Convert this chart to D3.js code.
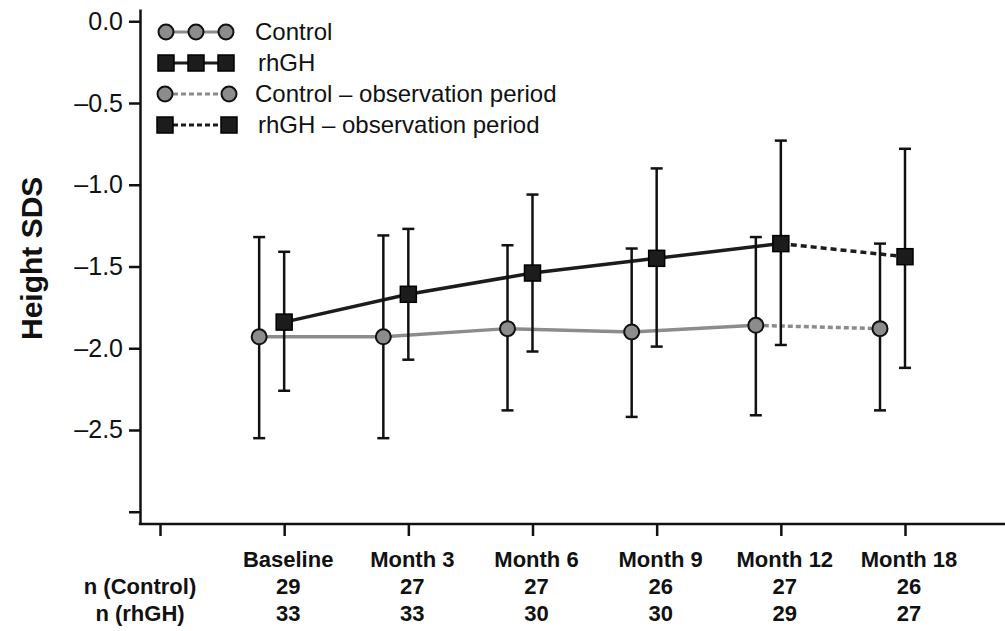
<!DOCTYPE html>
<html>
<head>
<meta charset="utf-8">
<script src="https://cdn.jsdelivr.net/npm/d3@7"></script>
<style>
body { margin: 0; background: #fff; }
svg text { font-family: "Liberation Sans", Arial, sans-serif; fill: #111; }
</style>
</head>
<body>
<div id="chart"></div>
<script>
// values
var categories = ["Baseline", "Month 3", "Month 6", "Month 9", "Month 12", "Month 18"];
var controlMean = [-1.93, -1.93, -1.88, -1.90, -1.86, -1.88];
var controlLow  = [-2.55, -2.55, -2.38, -2.42, -2.41, -2.38];
var controlHigh = [-1.32, -1.31, -1.37, -1.39, -1.32, -1.36];
var rhghMean = [-1.84, -1.67, -1.54, -1.45, -1.36, -1.44];
var rhghLow  = [-2.26, -2.07, -2.02, -1.99, -1.98, -2.12];
var rhghHigh = [-1.41, -1.27, -1.06, -0.90, -0.73, -0.78];
var nControl = [29, 27, 27, 26, 27, 26];
var nRhgh = [33, 33, 30, 30, 29, 27];
var yTicks = [0, -0.5, -1, -1.5, -2, -2.5, -3];
var legendLabels = ["Control", "rhGH", "Control \u2013 observation period", "rhGH \u2013 observation period"];

var width = 1005, height = 631;
var grey = "#8c8c8c", dark = "#1c1c1c";
var offset = -25; // control points sit left of the tick

var svg = d3.select("#chart").append("svg")
    .attr("width", width)
    .attr("height", height);

// scales
var x = d3.scalePoint()
    .domain([""].concat(categories))
    .range([160, 905]);

var y = d3.scaleLinear()
    .domain([0.075, -3.075])
    .range([9, 524]);

var fmt = d3.format(".1f");

// y axis
var yAxis = svg.append("g")
    .attr("transform", "translate(140,0)")
    .call(d3.axisLeft(y).tickValues(yTicks).tickSize(11).tickSizeOuter(0).tickPadding(6)
        .tickFormat(function (d) { return d === -3 ? "" : fmt(d).replace("\u2212", "\u2013"); }));
yAxis.selectAll("path, line").attr("stroke", "#111").attr("stroke-width", 2.5);
yAxis.selectAll("text").style("font-size", "25px").attr("fill", "#111");

// x axis
var xAxis = svg.append("g")
    .attr("transform", "translate(0," + y.range()[1] + ")")
    .call(d3.axisBottom(x).tickSize(12).tickSizeOuter(0).tickFormat(""));
xAxis.select(".domain").remove();
xAxis.selectAll("line").attr("stroke", "#111").attr("stroke-width", 2.5);
xAxis.append("line")
    .attr("x1", 138.8).attr("x2", width)
    .attr("stroke", "#111").attr("stroke-width", 2.5);

// y title
svg.append("text")
    .attr("transform", "translate(42," + y(-1.45) + ") rotate(-90)")
    .attr("text-anchor", "middle")
    .style("font-size", "30px")
    .style("font-weight", "bold")
    .text("Height SDS");

// category + n rows
var rows = [categories, nControl, nRhgh];
var rowY = [567, 594, 621];
rows.forEach(function (row, r) {
    svg.selectAll(".row" + r)
        .data(row)
        .enter().append("text")
        .attr("x", function (d, i) { return x(categories[i]) + 4; })
        .attr("y", rowY[r])
        .attr("text-anchor", "middle")
        .style("font-size", "22px")
        .style("font-weight", "bold")
        .text(function (d) { return d; });
});
svg.selectAll(".nlab")
    .data(["n (Control)", "n (rhGH)"])
    .enter().append("text")
    .attr("x", 140)
    .attr("y", function (d, i) { return rowY[i + 1]; })
    .attr("text-anchor", "middle")
    .style("font-size", "22px")
    .style("font-weight", "bold")
    .text(function (d) { return d; });

// series lines
function pts(vals, dx) {
    return vals.map(function (v, i) { return [x(categories[i]) + dx, y(v)]; });
}
var line = d3.line();
var cPts = pts(controlMean, offset), rPts = pts(rhghMean, 0);

svg.append("path").attr("d", line(cPts.slice(0, 5)))
    .attr("fill", "none").attr("stroke", grey).attr("stroke-width", 3.5);
svg.append("path").attr("d", line(cPts.slice(4)))
    .attr("fill", "none").attr("stroke", grey).attr("stroke-width", 3.5).attr("stroke-dasharray", "5,3");
svg.append("path").attr("d", line(rPts.slice(0, 5)))
    .attr("fill", "none").attr("stroke", dark).attr("stroke-width", 3.5);
svg.append("path").attr("d", line(rPts.slice(4)))
    .attr("fill", "none").attr("stroke", dark).attr("stroke-width", 3.5).attr("stroke-dasharray", "6,4");

// error bars
function errorBars(lo, hi, dx) {
    var g = svg.append("g").attr("stroke", "#111").attr("stroke-width", 2.5);
    categories.forEach(function (c, i) {
        var cx = x(c) + dx;
        g.append("line").attr("x1", cx).attr("x2", cx).attr("y1", y(lo[i])).attr("y2", y(hi[i]));
        g.append("line").attr("x1", cx - 6).attr("x2", cx + 6).attr("y1", y(lo[i])).attr("y2", y(lo[i]));
        g.append("line").attr("x1", cx - 6).attr("x2", cx + 6).attr("y1", y(hi[i])).attr("y2", y(hi[i]));
    });
}
errorBars(controlLow, controlHigh, offset);
errorBars(rhghLow, rhghHigh, 0);

// markers
svg.selectAll(".cdot")
    .data(cPts)
    .enter().append("circle")
    .attr("cx", function (d) { return d[0]; })
    .attr("cy", function (d) { return d[1]; })
    .attr("r", 7.5)
    .attr("fill", grey).attr("stroke", "#111").attr("stroke-width", 2);
svg.selectAll(".rsq")
    .data(rPts)
    .enter().append("rect")
    .attr("x", function (d) { return d[0] - 8; })
    .attr("y", function (d) { return d[1] - 8; })
    .attr("width", 16).attr("height", 16)
    .attr("fill", dark).attr("stroke", "#000").attr("stroke-width", 1.5);

// legend
var legY = [32, 63, 94, 125];
var legend = svg.append("g");
legendLabels.forEach(function (lab, i) {
    var isCtrl = (i % 2 === 0);
    var xs = i < 2 ? [166, 196, 226] : [165, 229];
    var g = legend.append("g").attr("transform", "translate(0," + legY[i] + ")");
    g.append("line")
        .attr("x1", xs[0]).attr("x2", xs[xs.length - 1])
        .attr("stroke", isCtrl ? grey : dark)
        .attr("stroke-width", 3)
        .attr("stroke-dasharray", i < 2 ? null : "5,3");
    xs.forEach(function (mx) {
        if (isCtrl) {
            g.append("circle").attr("cx", mx).attr("r", 7.5)
                .attr("fill", grey).attr("stroke", "#111").attr("stroke-width", 2);
        } else {
            g.append("rect").attr("x", mx - 8).attr("y", -8).attr("width", 16).attr("height", 16)
                .attr("fill", dark).attr("stroke", "#000").attr("stroke-width", 1.5);
        }
    });
    g.append("text")
        .attr("x", isCtrl ? 255 : 258)
        .attr("dy", "0.35em")
        .style("font-size", "24px")
        .text(lab);
});
</script>
</body>
</html>
